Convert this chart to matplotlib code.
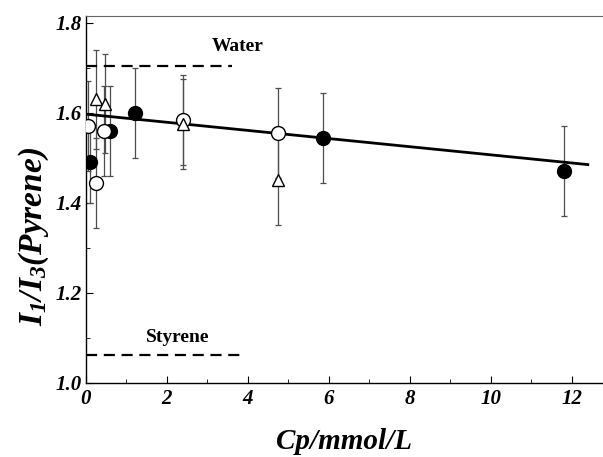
import numpy as np
import matplotlib
matplotlib.use('Agg')
import matplotlib.pyplot as plt
from matplotlib.ticker import MultipleLocator

plt.rcParams['font.family'] = 'Liberation Serif'
plt.rcParams['mathtext.fontset'] = 'custom'
plt.rcParams['mathtext.rm'] = 'Liberation Serif:bold:italic'
plt.rcParams['mathtext.it'] = 'Liberation Serif:bold:italic'
plt.rcParams['mathtext.bf'] = 'Liberation Serif:bold:italic'

# filled circles
x_fill = [0.1, 0.6, 1.2, 5.85, 11.8]
y_fill = [1.49, 1.56, 1.60, 1.545, 1.47]
e_fill = [0.09, 0.10, 0.10, 0.10, 0.10]
# open circles
x_open = [0.05, 0.25, 0.45, 2.4, 4.75]
y_open = [1.57, 1.445, 1.56, 1.585, 1.555]
e_open = [0.10, 0.10, 0.10, 0.10, 0.10]
# open triangles
x_tri = [0.25, 0.47, 2.4, 4.75]
y_tri = [1.63, 1.62, 1.575, 1.45]
e_tri = [0.11, 0.11, 0.10, 0.10]

# fitted line and reference levels
fit_x = [0.0, 12.4]
fit_y = [1.597, 1.485]
water_x, water_y = [0.0, 3.6], [1.705, 1.705]
sty_x, sty_y = [0.0, 3.95], [1.062, 1.062]

fig = plt.figure(figsize=(6.03, 4.57), dpi=100)
ax = fig.add_axes([0.1426, 0.162, 0.857, 0.803])

ax.errorbar(x_fill, y_fill, yerr=e_fill, fmt='none', ecolor='0.3', elinewidth=0.9, capsize=2.5, capthick=0.9)
ax.errorbar(x_open, y_open, yerr=e_open, fmt='none', ecolor='0.3', elinewidth=0.9, capsize=2.5, capthick=0.9)
ax.errorbar(x_tri, y_tri, yerr=e_tri, fmt='none', ecolor='0.3', elinewidth=0.9, capsize=2.5, capthick=0.9)

ax.plot(fit_x, fit_y, '-', color='black', lw=2, zorder=3)
ax.plot(water_x, water_y, '--', color='black', lw=1.6, dashes=(5, 3))
ax.plot(sty_x, sty_y, '--', color='black', lw=1.6, dashes=(5, 3))

ax.plot(x_fill, y_fill, 'o', ms=10, mfc='black', mec='black', zorder=4)
ax.plot(x_open, y_open, 'o', ms=10, mfc='white', mec='black', mew=1, zorder=4)
ax.plot(x_tri, y_tri, '^', ms=9, mfc='white', mec='black', mew=1, zorder=4)

ax.text(3.75, 1.747, 'Water', fontsize=14, fontweight='bold', ha='center', va='center')
ax.text(2.27, 1.1, 'Styrene', fontsize=14, fontweight='bold', ha='center', va='center')

ax.set_xlim(0, 12.77)
ax.set_ylim(1.0, 1.815)
ax.set_xticks([0, 2, 4, 6, 8, 10, 12])
ax.set_yticks([1.0, 1.2, 1.4, 1.6, 1.8])
ax.set_yticklabels(['1.0', '1.2', '1.4', '1.6', '1.8'])
ax.xaxis.set_minor_locator(MultipleLocator(1))
ax.yaxis.set_minor_locator(MultipleLocator(0.1))
ax.tick_params(which='both', direction='in', top=False, right=False)
ax.tick_params(which='major', length=5, labelsize=15)
ax.tick_params(which='minor', length=3)
for lab in ax.get_xticklabels() + ax.get_yticklabels():
    lab.set_fontweight('bold')
    lab.set_fontstyle('italic')
ax.tick_params(axis='x', pad=4)
ax.tick_params(axis='y', pad=3)

ax.spines['right'].set_visible(False)
ax.spines['top'].set_color('0.4')
for s in ['left', 'bottom']:
    ax.spines[s].set_linewidth(1.0)

ax.set_xlabel('Cp/mmol/L', fontsize=21, fontweight='bold', fontstyle='italic', labelpad=14)
ax.set_ylabel(r'$I_1/I_3(Pyrene)$', fontsize=24)
ax.yaxis.set_label_coords(-0.068, 0.40)

fig.savefig('out.png', dpi=100)
